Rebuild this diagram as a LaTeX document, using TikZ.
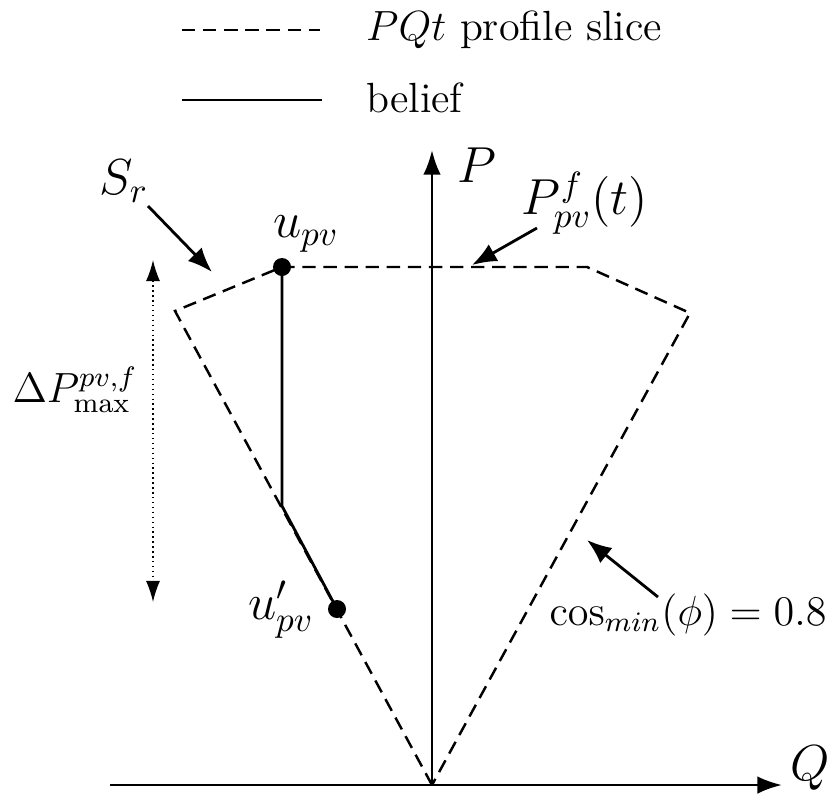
\documentclass[tikz,border=0pt]{standalone}
\usetikzlibrary{arrows.meta}
\begin{document}
\begin{tikzpicture}[x=0.01cm,y=-0.01cm,
  slice/.style={line width=0.7pt, dash pattern=on 3.8pt off 2.2pt},
  belief/.style={thick},
  axis/.style={thick,-{Latex[length=7pt,width=5pt]}},
  pointer/.style={thick,-{Latex[length=7pt,width=5.5pt]}},
  lbl/.style={font=\large, inner sep=1pt},
  dot/.style={circle,fill,inner sep=0pt,minimum size=0.18cm}]
\useasboundingbox (0,0) rectangle (827,793);
% legend
\coordinate (leg1a) at (182,30);
\coordinate (leg1b) at (320,30);
\coordinate (leg2a) at (182,100);
\coordinate (leg2b) at (322,100);
\draw[slice] (leg1a) -- (leg1b);
\draw[belief] (leg2a) -- (leg2b);
\node[lbl,anchor=base west] (leg1) at (362,40) {$PQt$ profile slice};
\node[lbl,anchor=base west] (leg2) at (362,112) {belief};
% axes
\coordinate (o) at (432,785);
\coordinate (qs) at (110,785);
\coordinate (qe) at (782,785);
\coordinate (pe) at (432,150);
\draw[axis] (qs) -- (qe);
\draw[axis] (o) -- (pe);
\node[lbl,font=\Large] (Q) at (810,768) {$Q$};
\node[lbl,font=\Large] (P) at (477,165) {$P$};
% profile slice
\coordinate (cl) at (175,311);
\coordinate (ct) at (587,267);
\coordinate (cr) at (690,313);
\node[dot] (upv) at (282,267) {};
\node[dot] (upvb) at (337,609) {};
\draw[slice] (o) -- (cl) -- (upv.center) -- (ct) -- (cr) -- cycle;
% belief
\coordinate (bk) at (282,506);
\draw[belief] (upv.center) -- (bk) -- (upvb.center);
\node[lbl,font=\Large] (upvl) at (306,234) {$u_{pv}$};
\node[lbl,font=\Large] (upvbl) at (281,610) {$u'_{pv}$};
% annotations
\node[lbl,font=\Large] (sr) at (124,181) {$S_r$};
\coordinate (srs) at (148,206);
\coordinate (srt) at (212,272);
\draw[pointer] (srs) -- (srt);
\node[lbl,font=\Large] (pf) at (585,203) {$P^f_{pv}(t)$};
\coordinate (pfs) at (537,228);
\coordinate (pft) at (472,265);
\draw[pointer] (pfs) -- (pft);
\node[lbl] (cs) at (688,615) {$\cos_{min}(\phi)=0.8$};
\coordinate (css) at (658,597);
\coordinate (cst) at (587,540);
\draw[pointer] (css) -- (cst);
\coordinate (da) at (153,260);
\coordinate (db) at (153,602);
\draw[densely dotted,{Latex[length=6pt,width=4pt]}-{Latex[length=6pt,width=4pt]}] (da) -- (db);
\node[lbl] (dp) at (75,390) {$\Delta P^{pv,f}_{\max}$};
\end{tikzpicture}
\end{document}
